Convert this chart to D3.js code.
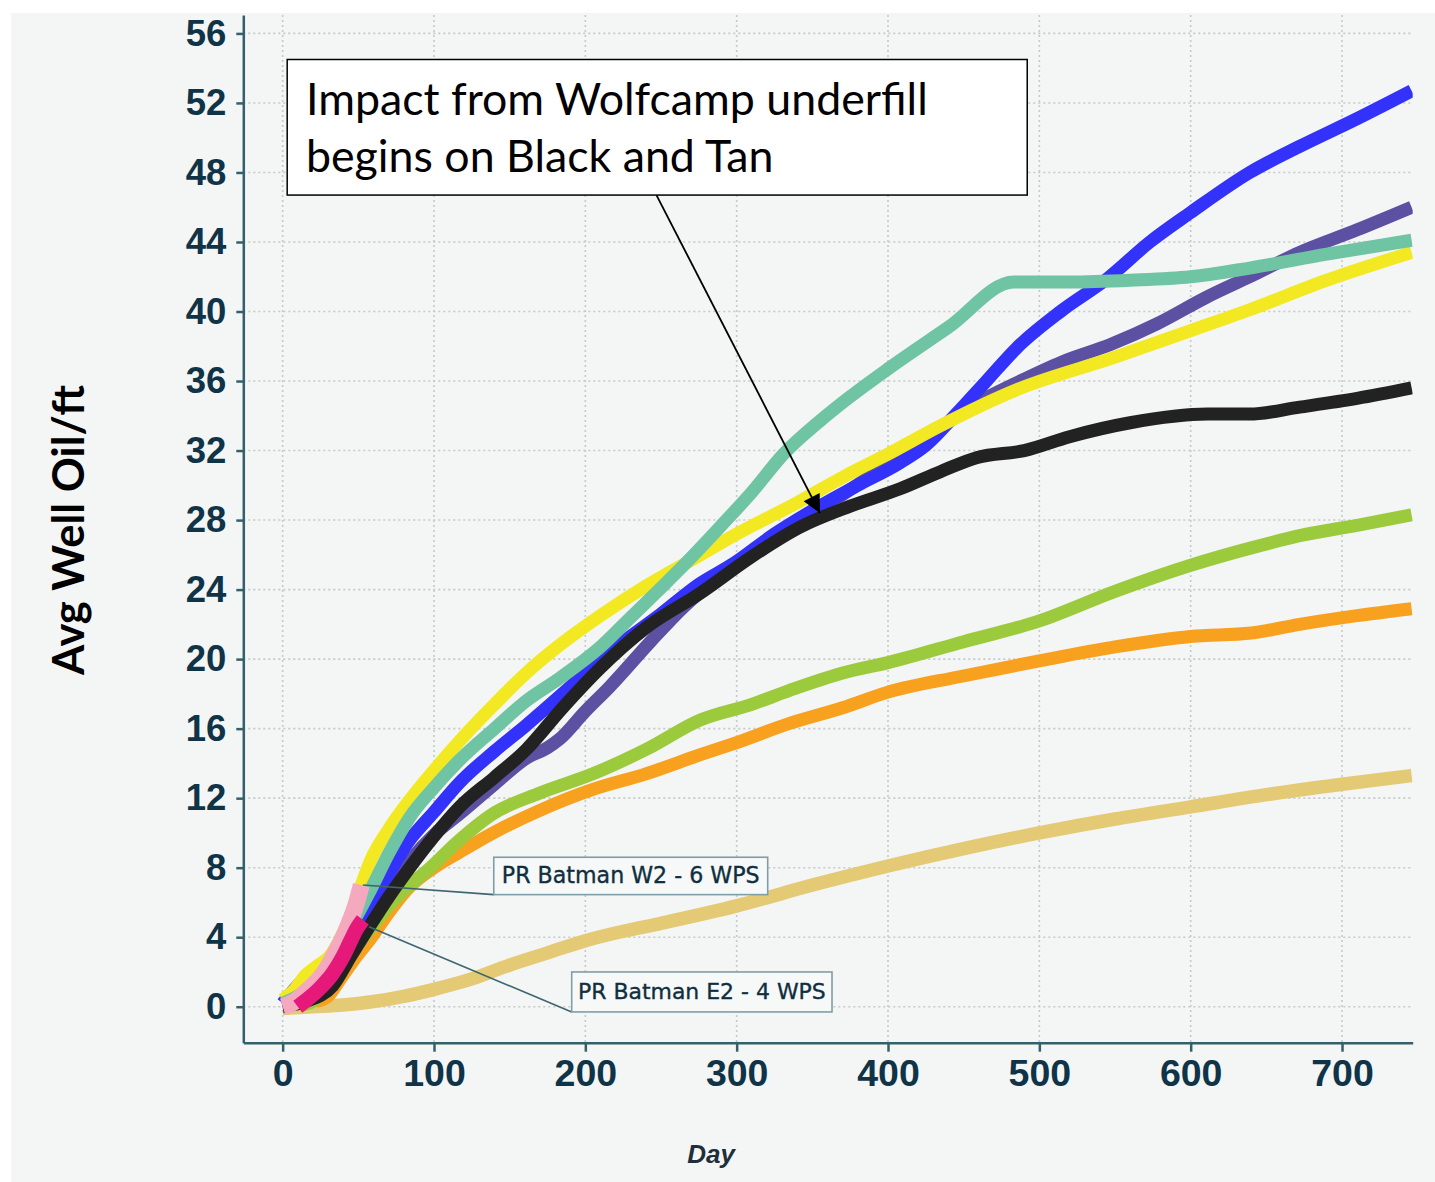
<!DOCTYPE html>
<html>
<head>
<meta charset="utf-8">
<script src="https://cdn.jsdelivr.net/npm/d3@7"></script>
<style>
  html, body { margin: 0; padding: 0; background: #ffffff; }
  svg { display: block; }
</style>
</head>
<body>
<svg id="chart" width="1435" height="1182"></svg>
<script>
// ---------------- DATA ----------------
const xTicks = [0, 100, 200, 300, 400, 500, 600, 700];
const yTicks = [0, 4, 8, 12, 16, 20, 24, 28, 32, 36, 40, 44, 48, 52, 56];
const xTitle = "Day";
const yTitle = "Avg Well Oil/ft";
const noteLines = ["Impact from Wolfcamp underfill", "begins on Black and Tan"];
const calloutW2 = "PR Batman W2 - 6 WPS";
const calloutE2 = "PR Batman E2 - 4 WPS";

// [day, cumulative oil per ft]
const tanSeries = [[0,-0.1],[20,0],[40,0.1],[60,0.3],[80,0.6],[100,1.0],[125,1.6],[150,2.4],[175,3.1],[200,3.8],[223,4.3],[250,4.8],[300,5.8],[350,7.0],[400,8.1],[450,9.1],[500,10.0],[550,10.8],[600,11.5],[650,12.2],[700,12.8],[746,13.3]];
const orangeSeries = [[22,0.3],[30,0.6],[39,1.7],[48,2.8],[58,3.9],[70,5.4],[84,6.9],[100,8.0],[117,8.9],[139,10.0],[170,11.3],[205,12.5],[240,13.4],[276,14.5],[300,15.2],[335,16.3],[370,17.2],[400,18.1],[448,19.0],[500,19.9],[550,20.7],[600,21.3],[640,21.5],[672,22.0],[710,22.5],[746,22.9]];
const greenSeries = [[12,0.1],[20,0.3],[30,1.3],[45,3.0],[58,4.5],[70,5.8],[84,7.0],[95,7.8],[117,9.6],[139,11.1],[170,12.3],[205,13.4],[240,14.8],[276,16.5],[310,17.4],[335,18.2],[370,19.2],[400,19.8],[450,21.0],[500,22.2],[550,23.9],[600,25.4],[640,26.4],[672,27.1],[710,27.7],[746,28.3]];
const purpleSeries = [[0,0],[15,0.6],[30,2.0],[45,3.6],[58,5.0],[84,8.4],[100,9.9],[117,11.1],[140,12.8],[161,14.3],[175,14.9],[183,15.4],[200,17.0],[216,18.4],[243,21.0],[265,23.0],[285,24.5],[300,25.5],[330,27.2],[360,28.9],[400,31.2],[434,33.3],[460,34.8],[485,35.9],[515,37.1],[547,38.1],[578,39.3],[610,40.8],[639,42.0],[672,43.4],[710,44.7],[746,46.0]];
const blueSeries = [[0,0.2],[13,1.5],[30,2.6],[45,4.2],[58,5.8],[84,9.6],[100,11.2],[117,12.9],[140,14.7],[161,16.2],[190,18.4],[216,20.4],[250,22.6],[275,24.3],[298,25.5],[325,27.2],[353,28.7],[380,30.0],[408,31.3],[425,32.3],[445,34.1],[465,36.0],[485,37.9],[514,40.0],[545,41.9],[573,44.0],[600,45.7],[639,48.0],[672,49.5],[710,51.1],[746,52.7]];
const yellowSeries = [[0,0.4],[8,1.0],[15,1.8],[22,2.3],[31,2.9],[38,3.9],[46,5.5],[52,7.0],[58,8.4],[70,10.2],[84,11.9],[100,13.6],[117,15.3],[140,17.4],[161,19.2],[183,20.8],[210,22.5],[240,24.2],[270,25.7],[300,27.2],[340,29.0],[375,30.7],[400,31.8],[434,33.4],[485,35.5],[551,37.4],[600,38.9],[639,40.1],[690,41.8],[746,43.4]];
const tealSeries = [[0,0.2],[15,0.9],[30,2.4],[45,4.6],[58,6.7],[70,8.8],[84,10.9],[100,12.6],[117,14.2],[140,16.0],[161,17.6],[183,18.9],[210,20.7],[230,22.4],[250,24.1],[265,25.4],[290,27.7],[310,29.6],[331,31.8],[355,33.7],[375,35.1],[400,36.7],[440,39.1],[483,41.7],[520,41.7],[560,41.8],[600,42.0],[639,42.5],[690,43.3],[746,44.1]];
const blackSeries = [[0,0],[15,0.3],[33,1.2],[45,2.9],[58,4.7],[70,6.3],[84,8.0],[100,9.8],[117,11.5],[140,13.2],[161,14.8],[185,17.2],[210,19.5],[240,21.8],[276,23.8],[310,25.9],[342,27.6],[375,28.8],[408,29.8],[435,30.8],[459,31.6],[490,32.0],[520,32.8],[560,33.6],[611,34.1],[639,34.1],[672,34.5],[710,35.0],[746,35.6]];
const pinkSeries = [[0,0],[8,0.3],[16,0.9],[22,1.4],[27,1.9],[33,2.8],[39,3.8],[44,4.8],[48,5.75],[52,7.0]];
const magentaSeries = [[10,0],[16,0.4],[25,1.1],[33,1.9],[40,2.9],[45,3.8],[49,4.5],[53,5.0]];

const seriesNames = ["Tan", "Orange", "Green", "Purple", "Blue", "Yellow", "Teal", "Black", calloutW2, calloutE2];
const seriesData = [tanSeries, orangeSeries, greenSeries, purpleSeries, blueSeries, yellowSeries, tealSeries, blackSeries, pinkSeries, magentaSeries];
const seriesColors = ["#e4ca74", "#f7a11f", "#9bcb3c", "#5c50a2", "#3232fb", "#f2e922", "#6fc4a4", "#222222", "#f4a9bf", "#e6197a"];
const seriesWidths = [13.5, 13, 13, 13, 13, 13, 13, 13, 17, 15];

// annotation anchors, in data units
const noteBox = { d0: 3, d1: 492, v0: 54.5, v1: 46.7 };
const noteArrow = { fromDay: 247, fromVal: 46.7, toDay: 355, toVal: 28.4 };
const w2Box = { d0: 139.5, d1: 320.5, v0: 8.6, v1: 6.45, fromDay: 53, fromVal: 7.0 };
const e2Box = { d0: 191, d1: 363, v0: 2.0, v1: -0.3, fromDay: 57, fromVal: 4.6 };

// ---------------- CHART ----------------
const svg = d3.select("#chart");
svg.append("rect").attr("x", 11).attr("y", 13).attr("width", 1435 - 11).attr("height", 1182 - 13).attr("fill", "#f4f5f5");

const x = d3.scaleLinear().domain([-26, 746.7]).range([243.3, 1412.7]);
const y = d3.scaleLinear().domain([-2.07, 57.06]).range([1042.7, 15]);

const axisColor = "#34606b";
const labelColor = "#0f3347";

// gridlines
const grid = svg.append("g");
grid.selectAll("line.h").data(yTicks).join("line")
  .attr("x1", x.range()[0]).attr("x2", x.range()[1])
  .attr("y1", d => y(d)).attr("y2", d => y(d))
  .attr("stroke", "#c6caca").attr("stroke-width", 1.6).attr("stroke-dasharray", "2,3");
grid.selectAll("line.v").data(xTicks).join("line")
  .attr("x1", d => x(d)).attr("x2", d => x(d))
  .attr("y1", y.range()[1]).attr("y2", y.range()[0])
  .attr("stroke", "#c6caca").attr("stroke-width", 1.6).attr("stroke-dasharray", "2,3");

// clip
svg.append("clipPath").attr("id", "plotclip").append("rect")
  .attr("x", x.range()[0]).attr("y", y.range()[1])
  .attr("width", x.range()[1] - x.range()[0]).attr("height", y.range()[0] - y.range()[1]);

const line = d3.line().x(d => x(d[0])).y(d => y(d[1])).curve(d3.curveMonotoneX);
svg.append("g").attr("clip-path", "url(#plotclip)")
  .selectAll("path").data(seriesData).join("path")
  .attr("d", line)
  .attr("fill", "none")
  .attr("stroke", (d, i) => seriesColors[i])
  .attr("stroke-width", (d, i) => seriesWidths[i])
  .attr("stroke-linejoin", "round")
  .attr("stroke-linecap", "butt")
  .append("title").text((d, i) => seriesNames[i]);

// axes
const yAxis = svg.append("g").attr("transform", `translate(${x.range()[0]},0)`)
  .call(d3.axisLeft(y).tickValues(yTicks).tickSize(7).tickPadding(10).tickSizeOuter(0));
const xAxis = svg.append("g").attr("transform", `translate(0,${y.range()[0]})`)
  .call(d3.axisBottom(x).tickValues(xTicks).tickSize(9).tickPadding(8).tickSizeOuter(0));
[yAxis, xAxis].forEach(a => {
  a.select(".domain").attr("stroke", axisColor).attr("stroke-width", 2.5);
  a.selectAll(".tick line").attr("stroke", axisColor).attr("stroke-width", 2.5);
  a.selectAll(".tick text").attr("fill", labelColor)
    .attr("font-family", "'Liberation Sans', Arial, sans-serif").attr("font-weight", "bold");
});
yAxis.selectAll(".tick text").attr("font-size", 36.5);
xAxis.selectAll(".tick text").attr("font-size", 37.5);

function fitText(sel, target) {
  const n = sel.node();
  const fs = parseFloat(sel.attr("font-size"));
  const w = n.getComputedTextLength();
  if (w > 0) sel.attr("font-size", fs * target / w);
}

// axis titles
const yt = svg.append("text")
  .attr("transform", "translate(84,530) rotate(-90)")
  .attr("text-anchor", "middle")
  .attr("font-family", "Lato, 'Open Sans', sans-serif").attr("font-weight", "bold")
  .attr("font-size", 38).attr("fill", "#000").text(yTitle);
fitText(yt, 290);

svg.append("text")
  .attr("x", 711).attr("y", 1163).attr("text-anchor", "middle")
  .attr("font-family", "'Liberation Sans', Arial, sans-serif").attr("font-weight", "bold").attr("font-style", "italic")
  .attr("font-size", 26).attr("fill", "#1f2f3a").text(xTitle);

// callout boxes
function callout(b, label, tw) {
  const g = svg.append("g");
  g.append("line")
    .attr("x1", x(b.fromDay)).attr("y1", y(b.fromVal))
    .attr("x2", x(b.d0)).attr("y2", y(b.v1))
    .attr("stroke", "#3d6770").attr("stroke-width", 1.6);
  g.append("rect")
    .attr("x", x(b.d0)).attr("y", y(b.v0))
    .attr("width", x(b.d1) - x(b.d0)).attr("height", y(b.v1) - y(b.v0))
    .attr("fill", "#f7f8f8").attr("stroke", "#7f9ea5").attr("stroke-width", 1.6);
  const t = g.append("text")
    .attr("x", (x(b.d0) + x(b.d1)) / 2).attr("y", (y(b.v0) + y(b.v1)) / 2 + 7)
    .attr("text-anchor", "middle")
    .attr("font-family", "'DejaVu Sans', sans-serif")
    .attr("font-size", 20).attr("fill", "#0f2f40").attr("stroke", "#0f2f40").attr("stroke-width", 0.35)
    .text(label);
  fitText(t, tw);
}
callout(w2Box, calloutW2, 258);
callout(e2Box, calloutE2, 248);

// annotation note
const defs = svg.append("defs");
defs.append("marker").attr("id", "arrowhead")
  .attr("viewBox", "0 0 10 10").attr("refX", 10).attr("refY", 5)
  .attr("markerWidth", 24).attr("markerHeight", 18).attr("markerUnits", "userSpaceOnUse")
  .attr("orient", "auto")
  .append("path").attr("d", "M0,0 L10,5 L0,10 Z").attr("fill", "#000");

svg.append("line")
  .attr("x1", x(noteArrow.fromDay)).attr("y1", y(noteArrow.fromVal))
  .attr("x2", x(noteArrow.toDay)).attr("y2", y(noteArrow.toVal))
  .attr("stroke", "#000").attr("stroke-width", 1.8)
  .attr("marker-end", "url(#arrowhead)");

svg.append("rect")
  .attr("x", x(noteBox.d0)).attr("y", y(noteBox.v0))
  .attr("width", x(noteBox.d1) - x(noteBox.d0)).attr("height", y(noteBox.v1) - y(noteBox.v0))
  .attr("fill", "#ffffff").attr("stroke", "#000").attr("stroke-width", 1.5);

const n1 = svg.append("text").attr("x", 306).attr("y", 115)
  .attr("font-family", "Lato, 'Open Sans', sans-serif").attr("font-size", 42).attr("fill", "#000").text(noteLines[0]);
fitText(n1, 622);
svg.append("text").attr("x", 306).attr("y", 172)
  .attr("font-family", "Lato, 'Open Sans', sans-serif").attr("font-size", n1.attr("font-size")).attr("fill", "#000").text(noteLines[1]);
</script>
</body>
</html>
